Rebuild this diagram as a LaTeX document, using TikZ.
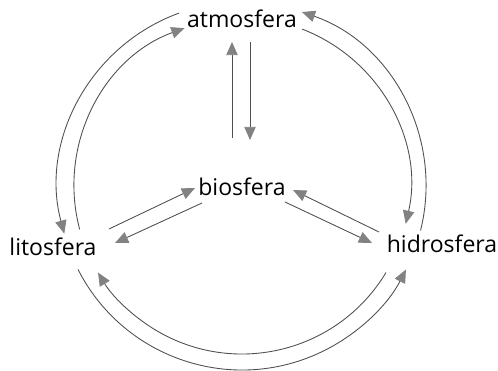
\documentclass[tikz,border=0pt]{standalone}
\usepackage{fontspec}
\setmainfont{Open Sans}
\usepackage{tikz}
\usetikzlibrary{
  arrows.meta,
  calc
}
\definecolor{linegray}{RGB}{80,80,80}
\definecolor{tipgray}{RGB}{130,130,130}

\begin{document}
\begin{tikzpicture}[x=0.02cm, y=0.02cm,
            sphere/.style={inner sep=1pt, font=\fontsize{13.1}{15}\selectfont, text=black},
            flow/.style={draw=linegray, line width=0.5pt, -{Triangle[length=7.5pt, width=6.5pt, color=tipgray]}}]
            \useasboundingbox (0,0) rectangle (498,371);
            \coordinate (ctr) at (242,185);
            \node [sphere] (atm) at (242,352) {atmosfera};
            \node [sphere] (bio) at (242,184) {biosfera};
            \node [sphere] (lit) at (53,124) {litosfera};
            \node [sphere] (hid) at (442,127) {hidrosfera};
            % straight exchanges with the biosphere
            \draw [flow] ([shift={(-10,49)}]bio.center) -- ([shift={(-10,-23)}]atm.center);
            \draw [flow] ([shift={(8,-23)}]atm.center) -- ([shift={(8,47)}]bio.center);
            \draw [flow] ([shift={(56,18)}]lit.center) -- ([shift={(-47,-1)}]bio.center);
            \draw [flow] ([shift={(-40,-16)}]bio.center) -- ([shift={(62,4)}]lit.center);
            \draw [flow] ([shift={(-63,12)}]hid.center) -- ([shift={(51,-3)}]bio.center);
            \draw [flow] ([shift={(43,-15)}]bio.center) -- ([shift={(-70,1)}]hid.center);
            % outer ring, counterclockwise
            \draw [flow] ([shift={(110:184)}]ctr) arc [start angle=110, end angle=195, radius=184];
            \draw [flow] ([shift={(207:184)}]ctr) arc [start angle=207, end angle=333, radius=184];
            \draw [flow] ([shift={(-14:184)}]ctr) arc [start angle=-14, end angle=71, radius=184];
            % inner ring, clockwise
            \draw [flow] ([shift={(195:168)}]ctr) arc [start angle=195, end angle=110, radius=168];
            \draw [flow] ([shift={(329:168)}]ctr) arc [start angle=329, end angle=211, radius=168];
            \draw [flow] ([shift={(69:168)}]ctr) arc [start angle=69, end angle=-13, radius=168];
        \end{tikzpicture}
\end{document}
